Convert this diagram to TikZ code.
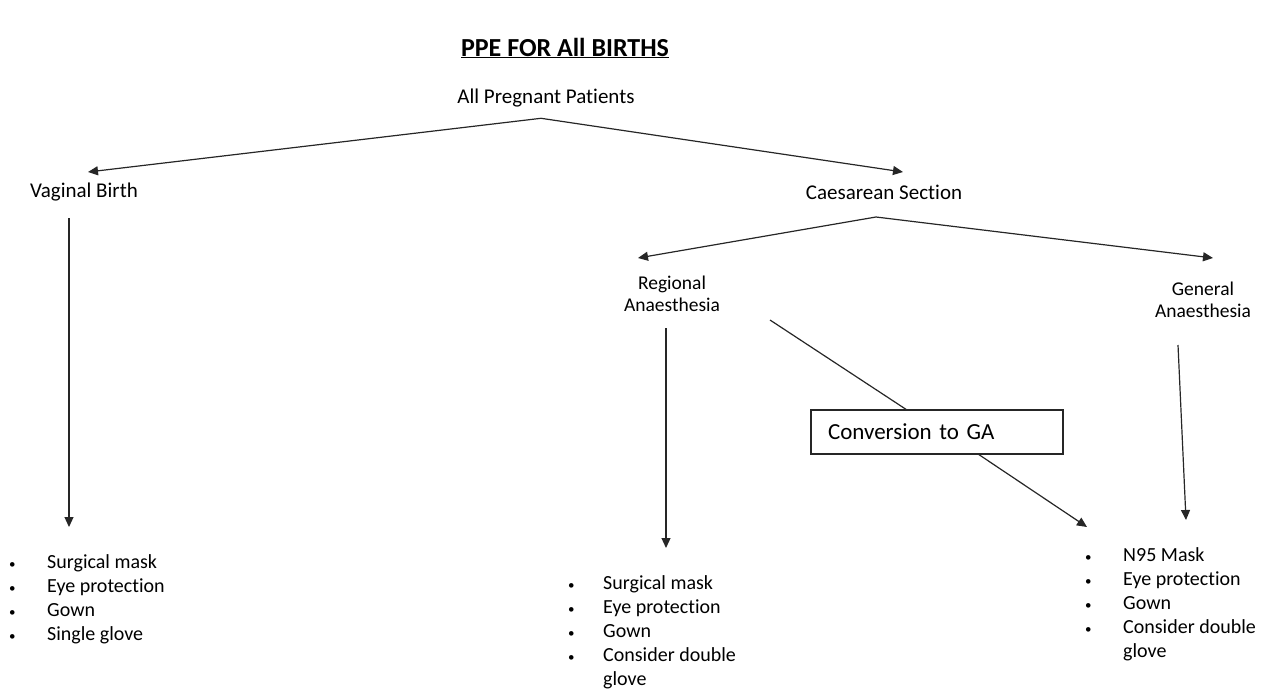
\documentclass[tikz,border=0pt]{standalone}
\usepackage{fontspec}
\setmainfont[Ligatures=NoCommon]{Carlito}
\usetikzlibrary{arrows.meta,calc}
\newcommand{\bul}{{\fontsize{13}{13}\selectfont •}}
\tikzset{
  lbl/.style={inner sep=0pt, font=\fontsize{21}{22}\selectfont, align=center},
  lst/.style={inner sep=0pt, anchor=north west, font=\fontsize{20}{24}\selectfont},
  conn/.style={line width=1.2pt, draw=black!85},
  arr/.style={conn, -{Triangle[length=10pt,width=9pt]}},
  box/.style={draw=black!85, line width=1.2pt, minimum width=252pt, minimum height=44pt,
              text width=218pt, inner xsep=17pt, inner ysep=0pt, align=left,
              font=\fontsize{23}{26}\selectfont}
}
\begin{document}
\begin{tikzpicture}[x=1pt,y=-1pt]
\useasboundingbox (0,0) rectangle (1271,696);
% title
\node[inner sep=0pt, font=\fontsize{26}{30}\selectfont\bfseries] (title) at (565,48) {\underline{PPE FOR All BIRTHS}};
% main labels
\node[lbl] (app) at (546,98) {All Pregnant Patients};
\node[lbl] (vag) at (84,192) {Vaginal Birth};
\node[lbl] (caes) at (884,192) {Caesarean Section};
\node[lbl, font=\fontsize{19.5}{22}\selectfont] (reg) at (672,294) {Regional\\Anaesthesia};
\node[lbl, font=\fontsize{19.5}{22}\selectfont] (gen) at (1203,300) {General\\Anaesthesia};
\node[box] (conv) at (937,432) {Conversion to GA};
% lists
\node[lst] (l1) at (9,551) {\begin{tabular}{@{}p{38pt}@{}l@{}}
\bul& Surgical mask\\ \bul& Eye protection\\ \bul& Gown\\ \bul& Single glove\end{tabular}};
\node[lst] (l2) at (568,572) {\begin{tabular}{@{}p{35pt}@{}l@{}}
\bul& Surgical mask\\ \bul& Eye protection\\ \bul& Gown\\ \bul& Consider double\\ & glove\end{tabular}};
\node[lst] (l3) at (1085,544) {\begin{tabular}{@{}p{38pt}@{}l@{}}
\bul& N95 Mask\\ \bul& Eye protection\\ \bul& Gown\\ \bul& Consider double\\ & glove\end{tabular}};
% connector end points
\coordinate (appB) at ($(app.south)+(-5,11)$);
\coordinate (vagT) at (88,172);
\coordinate (caesT) at (903,172);
\coordinate (vagB) at (69,218);
\coordinate (l1T) at (69,527);
\coordinate (caesB) at (876,217);
\coordinate (regT) at (638,258);
\coordinate (genT) at (1213,258);
\coordinate (regB) at (666,328);
\coordinate (l2T) at (666,548);
\coordinate (regR) at (770,320);
\coordinate (convT) at (907,410);
\coordinate (convB) at (978,454);
\coordinate (l3L) at (1087,527);
\coordinate (genB) at (1178,345);
\coordinate (l3T) at (1186,520);
% connectors
\draw[arr] (appB) -- (vagT);
\draw[arr] (appB) -- (caesT);
\draw[arr] (vagB) -- (l1T);
\draw[arr] (caesB) -- (regT);
\draw[arr] (caesB) -- (genT);
\draw[arr] (regB) -- (l2T);
\draw[conn] (regR) -- (convT);
\draw[arr] (convB) -- (l3L);
\draw[arr] (genB) -- (l3T);
\end{tikzpicture}
\end{document}
